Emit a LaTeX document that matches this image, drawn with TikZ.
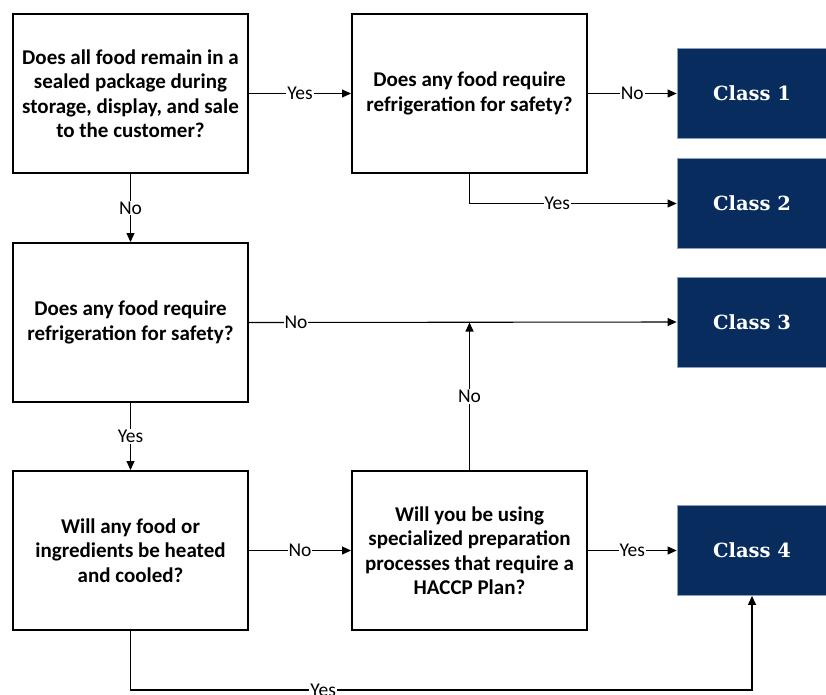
\documentclass[tikz,border=0pt]{standalone}
\usepackage{fontspec}
\setmainfont{Carlito}
\newfontfamily\classfont{DejaVu Serif}
\usetikzlibrary{arrows.meta}
\definecolor{navy}{RGB}{8,44,94}
\definecolor{navyedge}{RGB}{140,160,190}
\begin{document}
\begin{tikzpicture}[x=1pt,y=-1pt,
  qbox/.style={draw=black,line width=2pt,minimum width=235pt,minimum height=159pt,
    align=center,font=\fontsize{21}{24.5}\selectfont\bfseries,inner sep=2pt},
  cbox/.style={draw=navyedge,line width=0.8pt,fill=navy,minimum width=150pt,minimum height=90pt,
    text=white,font=\classfont\fontsize{19.5}{22}\selectfont\bfseries},
  conn/.style={line width=1.1pt,-{Triangle[length=9pt,width=8pt]}},
  lbl/.style={fill=white,inner sep=1pt,font=\fontsize{19.5}{19.5}\selectfont}]
\clip (0,0) rectangle (826,694);
\fill[white] (0,0) rectangle (826,694);

\node[qbox] (A) at (130.5,93.5) {Does all food remain in a\\sealed package during\\storage, display, and sale\\to the customer?};
\node[qbox] (B) at (469.5,93.5) {Does any food require\\refrigeration for safety?};
\node[qbox] (C) at (130.5,322.5) {Does any food require\\refrigeration for safety?};
\node[qbox] (D) at (130.5,550.5) {Will any food or\\ingredients be heated\\and cooled?};
\node[qbox] (E) at (469.5,550.5) {Will you be using\\specialized preparation\\processes that require a\\HACCP Plan?};

\node[cbox] (K1) at (752,93.5) {Class 1};
\node[cbox] (K2) at (752,203.5) {Class 2};
\node[cbox] (K3) at (752,322) {Class 3};
\node[cbox] (K4) at (752,550.5) {Class 4};

\coordinate (dturn) at (130.5,690);

\draw[conn] (A) -- node[lbl]{Yes} (B);
\draw[conn] (B) -- node[lbl]{No} (K1);
\draw[conn] (B.south) |- node[lbl,pos=0.712]{Yes} (K2.west);
\draw[conn] (A) -- node[lbl]{No} (C);
\draw[conn] (C.east) -- node[lbl,pos=0.11]{No} (K3.west);
\draw[conn] (E.north) -- node[lbl]{No} (E.north |- C.east);
\draw[conn] (C) -- node[lbl]{Yes} (D);
\draw[conn] (D) -- node[lbl]{No} (E);
\draw[conn] (E) -- node[lbl]{Yes} (K4);
\draw[conn] (D.south) -- (dturn) -| node[lbl,pos=0.155]{Yes} (K4.south);
\end{tikzpicture}
\end{document}
